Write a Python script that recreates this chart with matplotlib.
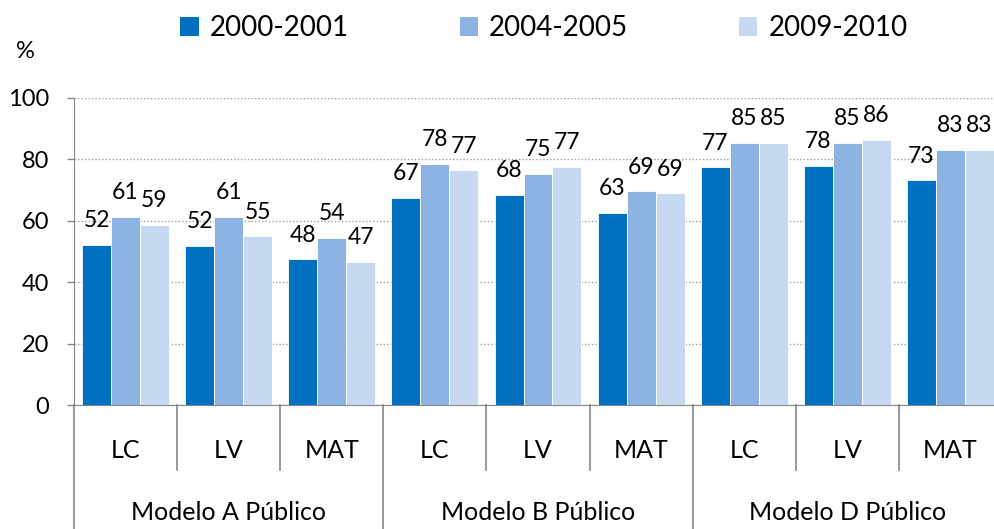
import numpy as np
import matplotlib
matplotlib.use("Agg")
import matplotlib.pyplot as plt
from matplotlib.patches import Patch

plt.rcParams['font.family'] = ['Lato', 'DejaVu Sans']

# data
subjects = ["LC", "LV", "MAT", "LC", "LV", "MAT", "LC", "LV", "MAT"]
models = ["Modelo A Público", "Modelo B Público", "Modelo D Público"]
years = ["2000-2001", "2004-2005", "2009-2010"]
y2000 = [52.2, 51.8, 47.5, 67.4, 68.5, 62.7, 77.4, 78.0, 73.2]
y2004 = [61.3, 61.3, 54.4, 78.5, 75.3, 69.6, 85.3, 85.3, 83.1]
y2009 = [58.6, 54.9, 46.6, 76.5, 77.5, 69.0, 85.3, 86.3, 83.1]
labels2000 = [52, 52, 48, 67, 68, 63, 77, 78, 73]
labels2004 = [61, 61, 54, 78, 75, 69, 85, 85, 83]
labels2009 = [59, 55, 47, 77, 77, 69, 85, 86, 83]

colors = ["#0070C0", "#8DB3E2", "#C6D9F1"]
axis_grey = "#868686"

fig = plt.figure(figsize=(9.94, 5.29), dpi=100)
ax = fig.add_axes([74 / 994, 1 - 405 / 529, 928 / 994, 307 / 529])

x = np.arange(len(subjects))
w = 0.281
series = [y2000, y2004, y2009]
lab = [labels2000, labels2004, labels2009]
for i in range(3):
    pos = x + (i - 1) * w
    ax.bar(pos, series[i], width=w, color=colors[i], edgecolor="white",
           linewidth=0.6, zorder=3, label=years[i])
    for px, v, t in zip(pos, series[i], lab[i]):
        ax.annotate(str(t), (px, v), xytext=(0, 12.7), textcoords="offset points",
                    ha="center", va="baseline", fontsize=16.5, zorder=4)

ax.set_xlim(-0.5, len(subjects) - 0.5)
ax.set_ylim(0, 100)
ax.set_yticks([0, 20, 40, 60, 80, 100])
ax.tick_params(axis="y", length=5, width=1, color=axis_grey, pad=13, labelsize=17)
ax.set_xticks([])
ax.yaxis.grid(True, linestyle=(0, (1, 1.5)), color="#A0A0A0", linewidth=1)
ax.set_axisbelow(True)
for s in ["top", "right"]:
    ax.spines[s].set_visible(False)
ax.spines["left"].set_color(axis_grey)
ax.spines["bottom"].set_color(axis_grey)

# two level category axis
trans = ax.get_xaxis_transform()
sub_bottom = (405 - 470) / 307
grp_bottom = (405 - 529) / 307
for i in range(len(subjects) + 1):
    b = i - 0.5
    lo = grp_bottom if i % 3 == 0 else sub_bottom
    ax.plot([b, b], [0, lo], transform=trans, color=axis_grey, linewidth=1.2,
            clip_on=False)
for i, s in enumerate(subjects):
    ax.text(i, (405 - 450) / 307, s, transform=trans, ha="center", va="center",
            fontsize=18)
for j, m in enumerate(models):
    ax.text(3 * j + 1, (405 - 513) / 307, m, transform=trans, ha="center",
            va="center", fontsize=18)

fig.text(25.5 / 994, 1 - 51 / 529, "%", ha="center", va="center", fontsize=17)

handles = [Patch(facecolor=c) for c in colors]
fig.legend(handles, years, loc="center", bbox_to_anchor=(544 / 994, 1 - 28 / 529),
           ncol=3, frameon=False, fontsize=20, handlelength=0.65, handleheight=0.65,
           handletextpad=0.4, columnspacing=4.0)

fig.savefig("out.png", dpi=100)
